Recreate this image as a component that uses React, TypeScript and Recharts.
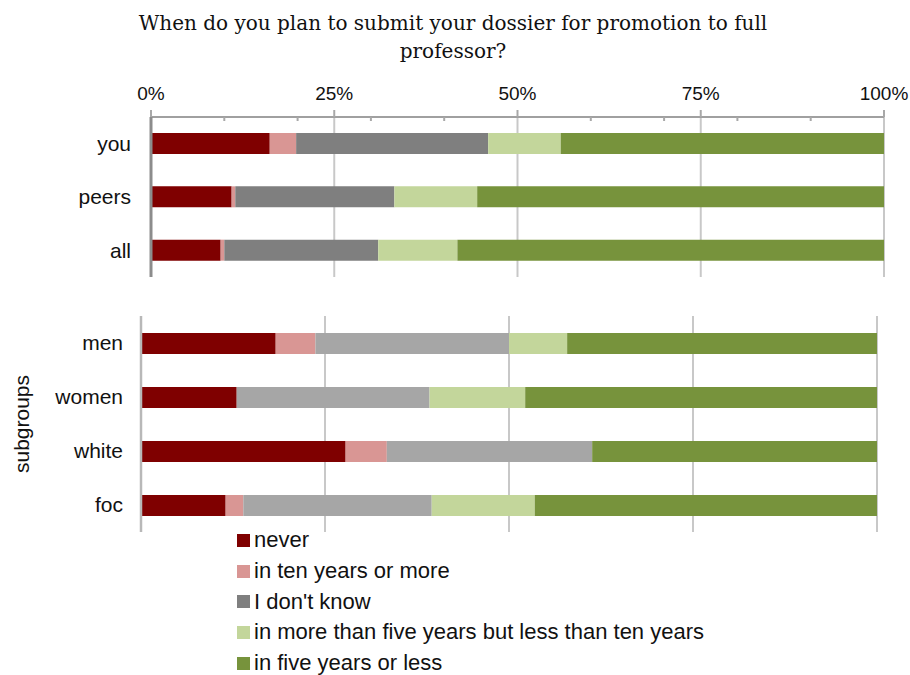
import React from "react";
import { BarChart, Bar, XAxis, YAxis, CartesianGrid } from "recharts";

// categories
const topCategories = ["you", "peers", "all"];
const bottomCategories = ["men", "women", "white", "foc"];

// series (percent) - top panel
const topNever = [16.2, 11.0, 9.5];
const topTenPlus = [3.6, 0.5, 0.5];
const topDontKnow = [26.2, 21.7, 21.0];
const topFiveToTen = [9.9, 11.3, 10.8];
const topFiveOrLess = [44.1, 55.5, 58.2];

// series (percent) - subgroups panel
const subNever = [18.3, 13.0, 27.8, 11.5];
const subTenPlus = [5.4, 0, 5.6, 2.4];
const subDontKnow = [26.3, 26.2, 27.9, 25.6];
const subFiveToTen = [7.9, 13.0, 0, 14.0];
const subFiveOrLess = [42.1, 47.8, 38.7, 46.5];

const axisTicks = [0, 10, 20, 25, 30, 40, 50, 60, 70, 75, 80, 90, 100];
const majorTicks = [0, 25, 50, 75, 100];
const gridValues = [25, 50, 75, 100];

const seriesNames = [
  "never",
  "in ten years or more",
  "I don't know",
  "in more than five years but less than ten years",
  "in five years or less",
];
const keys = ["never", "tenPlus", "dontKnow", "fiveToTen", "fiveOrLess"];
const topColors = ["#7f0000", "#d99694", "#7f7f7f", "#c3d69b", "#77933c"];
const subColors = ["#7f0000", "#d99694", "#a6a6a6", "#c3d69b", "#77933c"];

const buildRows = (cats: string[], cols: number[][]) =>
  cats.map((name, i) => {
    const row: Record<string, any> = { name };
    keys.forEach((k, j) => (row[k] = cols[j][i]));
    return row;
  });

const topData = buildRows(topCategories, [topNever, topTenPlus, topDontKnow, topFiveToTen, topFiveOrLess]);
const subData = buildRows(bottomCategories, [subNever, subTenPlus, subDontKnow, subFiveToTen, subFiveOrLess]);

const FONT = "'Liberation Sans', Arial, sans-serif";
const INK = "#111";

// top axis: labels on 25% steps, small inner ticks on 10% steps
const TopTick = (props: any) => {
  const { x, y, payload } = props;
  const v = payload.value;
  if (majorTicks.includes(v)) {
    return (
      <g>
        <line x1={x} x2={x} y1={y - 7} y2={y} stroke="#a8a8a8" strokeWidth={2} />
        <text x={x} y={y - 24} textAnchor="middle" dominantBaseline="central" fontSize={19} fill={INK} fontFamily={FONT}>
          {v + "%"}
        </text>
      </g>
    );
  }
  return <line x1={x} x2={x} y1={y} y2={y + 4} stroke="#a8a8a8" strokeWidth={2} />;
};

const gridGen = ({ offset }: any) => gridValues.map((v) => offset.left + (v / 100) * offset.width);

const App: React.FC = () => {
  return (
    <div style={{ position: "absolute", left: 0, top: 0, width: 910, height: 675, background: "#fff", fontFamily: FONT }}>
      <div
        style={{
          position: "absolute",
          top: 9,
          left: 0,
          width: 906,
          textAlign: "center",
          fontFamily: "'DejaVu Serif', serif",
          fontSize: 20,
          lineHeight: "28px",
          color: INK,
        }}
      >
        When do you plan to submit your dossier for promotion to full
        <br />
        professor?
      </div>

      {/* top panel */}
      <div style={{ position: "absolute", left: 0, top: 0 }}>
        <BarChart
          width={910}
          height={300}
          data={topData}
          layout="vertical"
          barCategoryGap={0}
          margin={{ top: 87, right: 26, left: 51, bottom: 23 }}
        >
          <CartesianGrid horizontal={false} stroke="#c8c8c8" strokeWidth={2} verticalCoordinatesGenerator={gridGen} />
          <XAxis
            type="number"
            orientation="top"
            domain={[0, 100]}
            ticks={axisTicks}
            interval={0}
            height={30}
            tickSize={0}
            tickMargin={0}
            tickLine={false}
            axisLine={{ stroke: "#a0a0a0", strokeWidth: 2 }}
            tick={<TopTick />}
          />
          <YAxis
            type="category"
            dataKey="name"
            width={100}
            tickLine={false}
            tickSize={0}
            tickMargin={20}
            axisLine={{ stroke: "#8c8c8c", strokeWidth: 3 }}
            tick={{ fontSize: 21, fill: INK, fontFamily: FONT }}
          />
          {keys.map((k, i) => (
            <Bar key={k} dataKey={k} stackId="a" fill={topColors[i]} barSize={21} isAnimationActive={false} />
          ))}
        </BarChart>
      </div>

      {/* subgroups panel */}
      <div style={{ position: "absolute", left: 0, top: 290 }}>
        <BarChart
          width={910}
          height={260}
          data={subData}
          layout="vertical"
          barCategoryGap={0}
          margin={{ top: 26, right: 33, left: 41, bottom: 18 }}
        >
          <CartesianGrid horizontal={false} stroke="#c8c8c8" strokeWidth={2} verticalCoordinatesGenerator={gridGen} />
          <XAxis type="number" domain={[0, 100]} hide />
          <YAxis
            type="category"
            dataKey="name"
            width={100}
            tickLine={false}
            tickSize={0}
            tickMargin={18}
            axisLine={{ stroke: "#b8b8b8", strokeWidth: 2.5 }}
            tick={{ fontSize: 21, fill: INK, fontFamily: FONT }}
          />
          {keys.map((k, i) => (
            <Bar key={k} dataKey={k} stackId="a" fill={subColors[i]} barSize={21} isAnimationActive={false} />
          ))}
        </BarChart>
      </div>

      <div
        style={{
          position: "absolute",
          left: 22,
          top: 424,
          transform: "translate(-50%, -50%) rotate(-90deg)",
          fontSize: 21,
          color: INK,
          whiteSpace: "nowrap",
        }}
      >
        subgroups
      </div>

      {/* legend */}
      <div style={{ position: "absolute", left: 237, top: 525 }}>
        {seriesNames.map((s, i) => (
          <div key={s} style={{ display: "flex", alignItems: "center", height: 30.7, fontSize: 22, color: INK }}>
            <span style={{ display: "inline-block", width: 13, height: 13, background: topColors[i], marginRight: 4 }} />
            {s}
          </div>
        ))}
      </div>
    </div>
  );
};

export default App;
